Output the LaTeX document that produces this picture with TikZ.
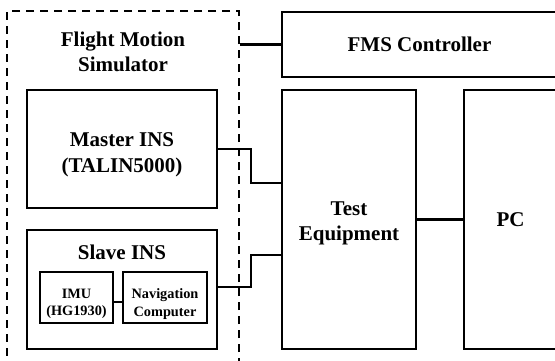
\documentclass[tikz,border=0pt]{standalone}
\usepackage{fontspec}
\setmainfont{Liberation Serif}
\begin{document}
\begin{tikzpicture}[x=1pt,y=-1pt,
  blk/.style={draw, line width=2.2pt, rectangle, inner sep=0pt, align=center, font=\fontsize{21}{25.5}\selectfont\bfseries},
  sblk/.style={draw, line width=2.2pt, rectangle, inner sep=0pt},
  dashbox/.style={draw, line width=2.2pt, dash pattern=on 8pt off 6pt, rectangle, inner sep=0pt},
  conn/.style={line width=2.2pt},
  thin/.style={line width=1.2pt},
  lbl/.style={align=center, inner sep=0pt, font=\fontsize{21}{25.5}\selectfont\bfseries},
  slbl/.style={align=center, inner sep=0pt, font=\fontsize{14.3}{17.5}\selectfont\bfseries}]
\useasboundingbox (0,0) rectangle (555,360);
\node[dashbox, minimum width=232pt, minimum height=361pt] (fms) at (123,191.5) {};
\node[lbl] (fmslbl) at (123,52) {Flight Motion\\Simulator};
\node[blk, minimum width=190pt, minimum height=118pt] (master) at (122,149) {};
\node[lbl] (masterlbl) at (122,155) {Master INS\\(TALIN5000)};
\node[blk, minimum width=190pt, minimum height=119pt] (slave) at (122,289.5) {};
\node[lbl] (slavelbl) at (122,252) {Slave INS};
\node[sblk, minimum width=73pt, minimum height=51pt] (imu) at (76.5,297.5) {};
\node[slbl] (imulbl) at (76.5,304) {IMU\\(HG1930)};
\node[sblk, minimum width=84pt, minimum height=51pt] (nav) at (165,297.5) {};
\node[slbl] (navlbl) at (165,304) {Navigation\\Computer};
\node[blk, minimum width=275pt, minimum height=65pt] (ctrl) at (419.5,44.5) {FMS Controller};
\node[blk, minimum width=134pt, minimum height=259pt] (test) at (349,219.5) {};
\node[lbl] (testlbl) at (349,223.5) {Test\\Equipment};
\node[blk, minimum width=93pt, minimum height=259pt] (pc) at (510.5,219.5) {PC};
\draw[conn] (ctrl.west) -- (ctrl.west -| fms.east);
\draw[conn] (master.east) -- ++(33,0) |- ([yshift=36.5pt]test.west);
\draw[conn] ([yshift=2.5pt]slave.east) -- ++(33,0) |- ([yshift=-35.5pt]test.west);
\draw[conn] (test.east) -- (pc.west);
\draw[thin] ([yshift=-4.5pt]imu.east) -- ([yshift=-4.5pt]nav.west);
\end{tikzpicture}
\end{document}
